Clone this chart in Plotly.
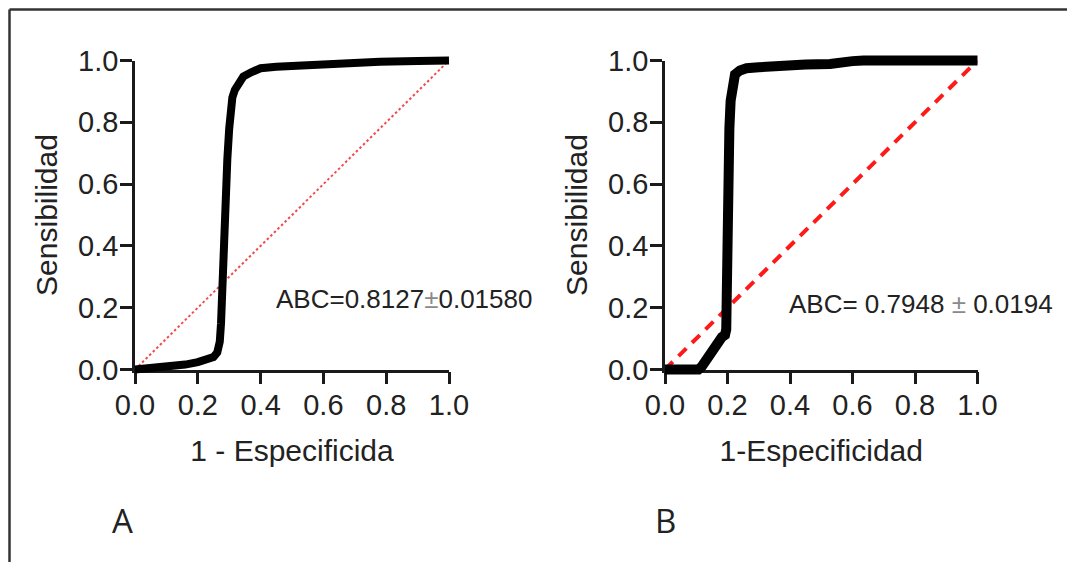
import plotly.graph_objects as go

# ---------------- data ----------------
roc_a_fpr = [0, 0.04, 0.08, 0.12, 0.16, 0.2, 0.23, 0.25, 0.262, 0.27, 0.274, 0.277, 0.282,
             0.288, 0.294, 0.3, 0.305, 0.31, 0.318, 0.33, 0.345, 0.37, 0.4, 0.45, 0.5,
             0.57, 0.65, 0.78, 0.9, 1.0]
roc_a_tpr = [0, 0.003, 0.006, 0.01, 0.016, 0.024, 0.032, 0.04, 0.055, 0.09, 0.15, 0.25, 0.4,
             0.55, 0.68, 0.78, 0.85, 0.88, 0.905, 0.93, 0.948, 0.962, 0.975, 0.98, 0.983,
             0.989, 0.991, 0.996, 0.998, 1.0]

roc_b_fpr = [0, 0.05, 0.107, 0.118, 0.128, 0.14, 0.15, 0.16, 0.171, 0.182, 0.192, 0.196,
             0.197, 0.198, 0.2, 0.203, 0.206, 0.21, 0.216, 0.224, 0.24, 0.261, 0.3, 0.368,
             0.45, 0.528, 0.55, 0.571, 0.6, 0.635, 0.8, 1.0]
roc_b_tpr = [0, 0, 0, 0.01, 0.025, 0.045, 0.063, 0.08, 0.095, 0.105, 0.112, 0.13, 0.2, 0.35,
             0.5, 0.65, 0.78, 0.87, 0.92, 0.955, 0.968, 0.975, 0.978, 0.985, 0.987, 0.989,
             0.993, 0.996, 0.998, 1.0, 1.0, 1.0]

diag = [0, 1]
tick_vals = [0, 0.2, 0.4, 0.6, 0.8, 1.0]
tick_text = ["0.0", "0.2", "0.4", "0.6", "0.8", "1.0"]

x_title_a = "1 - Especificida"
x_title_b = "1-Especificidad"
y_title = "Sensibilidad"
auc_a = 'ABC=0.8127<span style="color:#8a8a8a">±</span>0.01580'
auc_b = 'ABC= 0.7948 <span style="color:#8a8a8a">±</span> 0.0194'
panel_labels = ["A", "B"]

# ---------------- layout geometry (pixels) ----------------
W, H = 1067, 562
FONT = "Arial, Liberation Sans, sans-serif"
AX_COLOR = "#1a1a1a"
A_X0, A_X1 = 135, 449
B_X0, B_X1 = 665, 977.5
Y0, Y1 = 369.5, 60.5
PAD = 8


def px(p):
    return p / W


def py(p):
    return 1 - p / H


fig = go.Figure()

# diagonal reference lines on the visible axes
fig.add_trace(go.Scatter(x=diag, y=diag, mode="lines", xaxis="x", yaxis="y",
                         line=dict(color="#f24a4a", width=2, dash="2.5px,2.5px"),
                         hoverinfo="skip", showlegend=False))
fig.add_trace(go.Scatter(x=diag, y=diag, mode="lines", xaxis="x3", yaxis="y3",
                         line=dict(color="#ff1a1a", width=4, dash="11px,8px"),
                         hoverinfo="skip", showlegend=False))
# ROC curves on slightly enlarged (hidden) axes so the thick line is not clipped
fig.add_trace(go.Scatter(x=roc_a_fpr, y=roc_a_tpr, mode="lines", xaxis="x2", yaxis="y2",
                         line=dict(color="black", width=8), showlegend=False))
fig.add_trace(go.Scatter(x=roc_b_fpr, y=roc_b_tpr, mode="lines", xaxis="x4", yaxis="y4",
                         line=dict(color="black", width=10), showlegend=False))

vis_axis = dict(range=[0, 1], showgrid=False, zeroline=False, showline=True,
                linecolor=AX_COLOR, linewidth=2.5, ticks="outside", ticklen=12,
                tickwidth=2.5, tickcolor=AX_COLOR, tickvals=tick_vals, ticktext=tick_text,
                tickfont=dict(family=FONT, size=29, color="#222"), fixedrange=True)
hid_axis = dict(visible=False, showgrid=False, zeroline=False, fixedrange=True)


def hidden_range(p0, p1):
    span = abs(p1 - p0)
    return [-PAD / span, 1 + PAD / span]


fig.update_layout(
    width=W, height=H, template="none",
    margin=dict(l=0, r=0, t=0, b=0),
    paper_bgcolor="white", plot_bgcolor="rgba(0,0,0,0)",
    font=dict(family=FONT, color="#222"),
    xaxis=dict(vis_axis, domain=[px(A_X0), px(A_X1)], anchor="y",
               title=dict(text=x_title_a, font=dict(size=30), standoff=20),
               ticklabelstandoff=-4),
    yaxis=dict(vis_axis, domain=[py(Y0), py(Y1)], anchor="x",
               title=dict(text=y_title, font=dict(size=30), standoff=12),
               ticklabelstandoff=-4),
    xaxis3=dict(vis_axis, domain=[px(B_X0), px(B_X1)], anchor="y3",
                title=dict(text=x_title_b, font=dict(size=30), standoff=20),
                ticklabelstandoff=-4),
    yaxis3=dict(vis_axis, domain=[py(Y0), py(Y1)], anchor="x3",
                title=dict(text=y_title, font=dict(size=30), standoff=12),
                ticklabelstandoff=-4),
    xaxis2=dict(hid_axis, domain=[px(A_X0 - PAD), px(A_X1 + PAD)], anchor="y2",
                range=hidden_range(A_X0, A_X1)),
    yaxis2=dict(hid_axis, domain=[py(Y0 + PAD), py(Y1 - PAD)], anchor="x2",
                range=hidden_range(Y0, Y1)),
    xaxis4=dict(hid_axis, domain=[px(B_X0 - PAD), px(B_X1 + PAD)], anchor="y4",
                range=hidden_range(B_X0, B_X1)),
    yaxis4=dict(hid_axis, domain=[py(Y0 + PAD), py(Y1 - PAD)], anchor="x4",
                range=hidden_range(Y0, Y1)),
    shapes=[
        dict(type="line", xref="paper", yref="paper", x0=px(9.5), x1=px(9.5),
             y0=0, y1=py(9.5), line=dict(color="#333", width=2.5)),
        dict(type="line", xref="paper", yref="paper", x0=px(9.5), x1=1,
             y0=py(9.5), y1=py(9.5), line=dict(color="#333", width=2.5)),
    ],
    annotations=[
        dict(text=auc_a, xref="paper", yref="paper", x=px(274), y=py(298.5),
             xanchor="left", yanchor="middle", showarrow=False,
             font=dict(family=FONT, size=26, color="#222")),
        dict(text=auc_b, xref="paper", yref="paper", x=px(787), y=py(303.5),
             xanchor="left", yanchor="middle", showarrow=False,
             font=dict(family=FONT, size=26, color="#222")),
        dict(text=panel_labels[0], xref="paper", yref="paper", x=px(122), y=py(520),
             xanchor="center", yanchor="middle", showarrow=False,
             font=dict(family="Open Sans, Liberation Sans, sans-serif", size=33, color="#222")),
        dict(text=panel_labels[1], xref="paper", yref="paper", x=px(665), y=py(520),
             xanchor="center", yanchor="middle", showarrow=False,
             font=dict(family="Open Sans, Liberation Sans, sans-serif", size=33, color="#222")),
    ],
)

fig.write_html("out.html", config={"displayModeBar": False},
               post_script="document.body.style.margin='0';")
